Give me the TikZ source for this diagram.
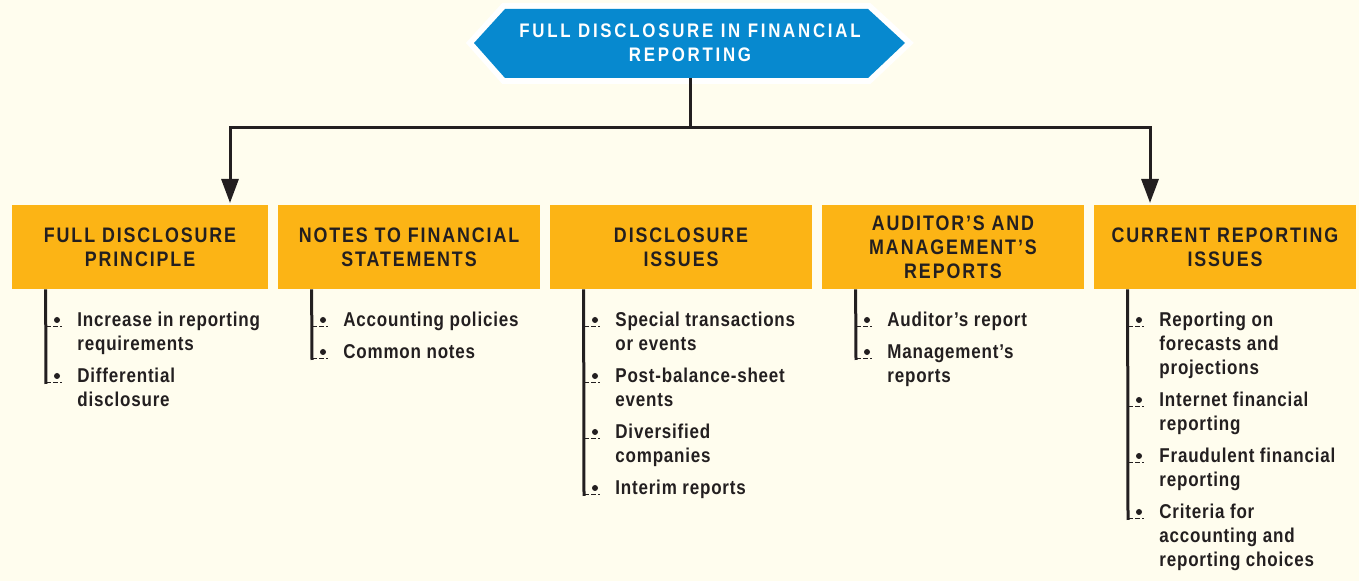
\documentclass[tikz,border=0pt]{standalone}
\usepackage{fontspec}
\usepackage{xcolor}
\usepackage{tikz}
\usetikzlibrary{arrows.meta,calc}
\setmainfont{Liberation Sans}[FakeStretch=0.85, LetterSpace=4]
\newfontfamily\headfam{Liberation Sans}[FakeStretch=0.85, LetterSpace=9]
\newfontfamily\bannerfam{Liberation Sans}[FakeStretch=0.86, LetterSpace=14]
\definecolor{cream}{HTML}{FFFDEE}
\definecolor{ink}{HTML}{231F20}
\definecolor{sky}{HTML}{0789CF}
\definecolor{amber}{HTML}{FCB415}
\newcommand{\itemF}{\fontsize{10pt}{12pt}\selectfont\bfseries}
\newcommand{\headF}{\headfam\fontsize{10.5pt}{12pt}\selectfont\bfseries}
\newcommand{\bannerF}{\bannerfam\fontsize{9.8pt}{12pt}\selectfont\bfseries}

\begin{document}
\begin{tikzpicture}[x=0.5pt, y=-0.5pt,
    headbox/.style={fill=amber, text=ink, font=\headF, align=center,
      minimum height=42pt, inner sep=0pt},
    entry/.style={anchor=base west, inner sep=0pt, align=left,
      font=\itemF, text=ink},
    link/.style={draw=ink, line width=1.5pt,
      -{Triangle[length=12pt, width=8.5pt]}},
    bar/.style={draw=ink, line width=1.5pt},
    tick/.style={draw=ink, line width=0.5pt, dash pattern=on 2.5pt off 1pt},
    dot/.style={fill=ink}]
      \useasboundingbox[fill=cream] (0, 0) rectangle (1359, 581);

      % banner
      \draw[draw=white, line width=6pt, fill=sky]
        (474, 43) -- (505, 9) -- (868, 9) -- (905, 43) -- (868, 78)
        -- (505, 78) -- cycle;
      \fill[sky] (474, 43) -- (505, 9) -- (868, 9) -- (905, 43)
        -- (868, 78) -- (505, 78) -- cycle;
      \node[text=white, font=\bannerF, align=center, minimum height=34.5pt,
            inner sep=0pt]
        (banner) at (690, 43) {FULL DISCLOSURE IN FINANCIAL\\REPORTING};

      % headings
      \node[headbox, minimum width=128pt] (fdp) at (140, 247)
        {FULL DISCLOSURE\\PRINCIPLE};
      \node[headbox, minimum width=131pt] (notes) at (409, 247)
        {NOTES TO FINANCIAL\\STATEMENTS};
      \node[headbox, minimum width=131pt] (issues) at (681, 247)
        {DISCLOSURE\\ISSUES};
      \node[headbox, minimum width=131pt] (audit) at (953, 247)
        {AUDITOR’S AND\\MANAGEMENT’S\\REPORTS};
      \node[headbox, minimum width=131pt] (current) at (1225, 247)
        {CURRENT REPORTING\\ISSUES};

      \coordinate (split) at (690, 128);
      \coordinate (leftdrop) at (230, 203);
      \coordinate (rightdrop) at (1150, 203);
      \draw[bar] (banner.south) -- (split);
      \draw[link] (split) -| (leftdrop);
      \draw[link] (split) -| (rightdrop);

      % entries, placed at the baseline of their last line
      \node[entry] (p1) at (77, 351) {Increase in reporting\\requirements};
      \node[entry] (p2) at (77, 407) {Differential\\disclosure};

      \node[entry] (n1) at (343, 327) {Accounting policies};
      \node[entry] (n2) at (343, 359) {Common notes};

      \node[entry] (d1) at (615, 351) {Special transactions\\or events};
      \node[entry] (d2) at (615, 407) {Post-balance-sheet\\events};
      \node[entry] (d3) at (615, 463) {Diversified\\companies};
      \node[entry] (d4) at (615, 495) {Interim reports};

      \node[entry] (r1) at (887, 327) {Auditor’s report};
      \node[entry] (r2) at (887, 383) {Management’s\\reports};

      \node[entry] (c1) at (1159, 375) {Reporting on\\forecasts and\\projections};
      \node[entry] (c2) at (1159, 431) {Internet financial\\reporting};
      \node[entry] (c3) at (1159, 487) {Fraudulent financial\\reporting};
      \node[entry] (c4) at (1159, 567) {Criteria for\\accounting and\\reporting choices};

      % bars and bullets
      \draw[bar] ($(fdp.south west)+(34,0)$) -- ($(p2.base west)+(-31,-23)$);
      \draw[bar] ($(notes.south west)+(34,0)$) -- ($(n2.base west)+(-31,1)$);
      \draw[bar] ($(issues.south west)+(34,0)$) -- ($(d4.base west)+(-31,1)$);
      \draw[bar] ($(audit.south west)+(34,0)$) -- ($(r2.base west)+(-31,-23)$);
      \draw[bar] ($(current.south west)+(34,0)$) -- ($(c4.base west)+(-31,-47)$);
      \foreach \e/\k in {p1/1,p2/1,n1/0,n2/0,d1/1,d2/1,d3/1,d4/0,
                         r1/0,r2/1,c1/2,c2/1,c3/1,c4/2} {
        \draw[tick] ($(\e.base west)+(-31,{-24*\k})$) -- ++(16,0);
        \fill[dot] ($(\e.base west)+(-20,{-7-24*\k})$) circle[radius=1.5pt];
      }
\end{tikzpicture}
\end{document}
